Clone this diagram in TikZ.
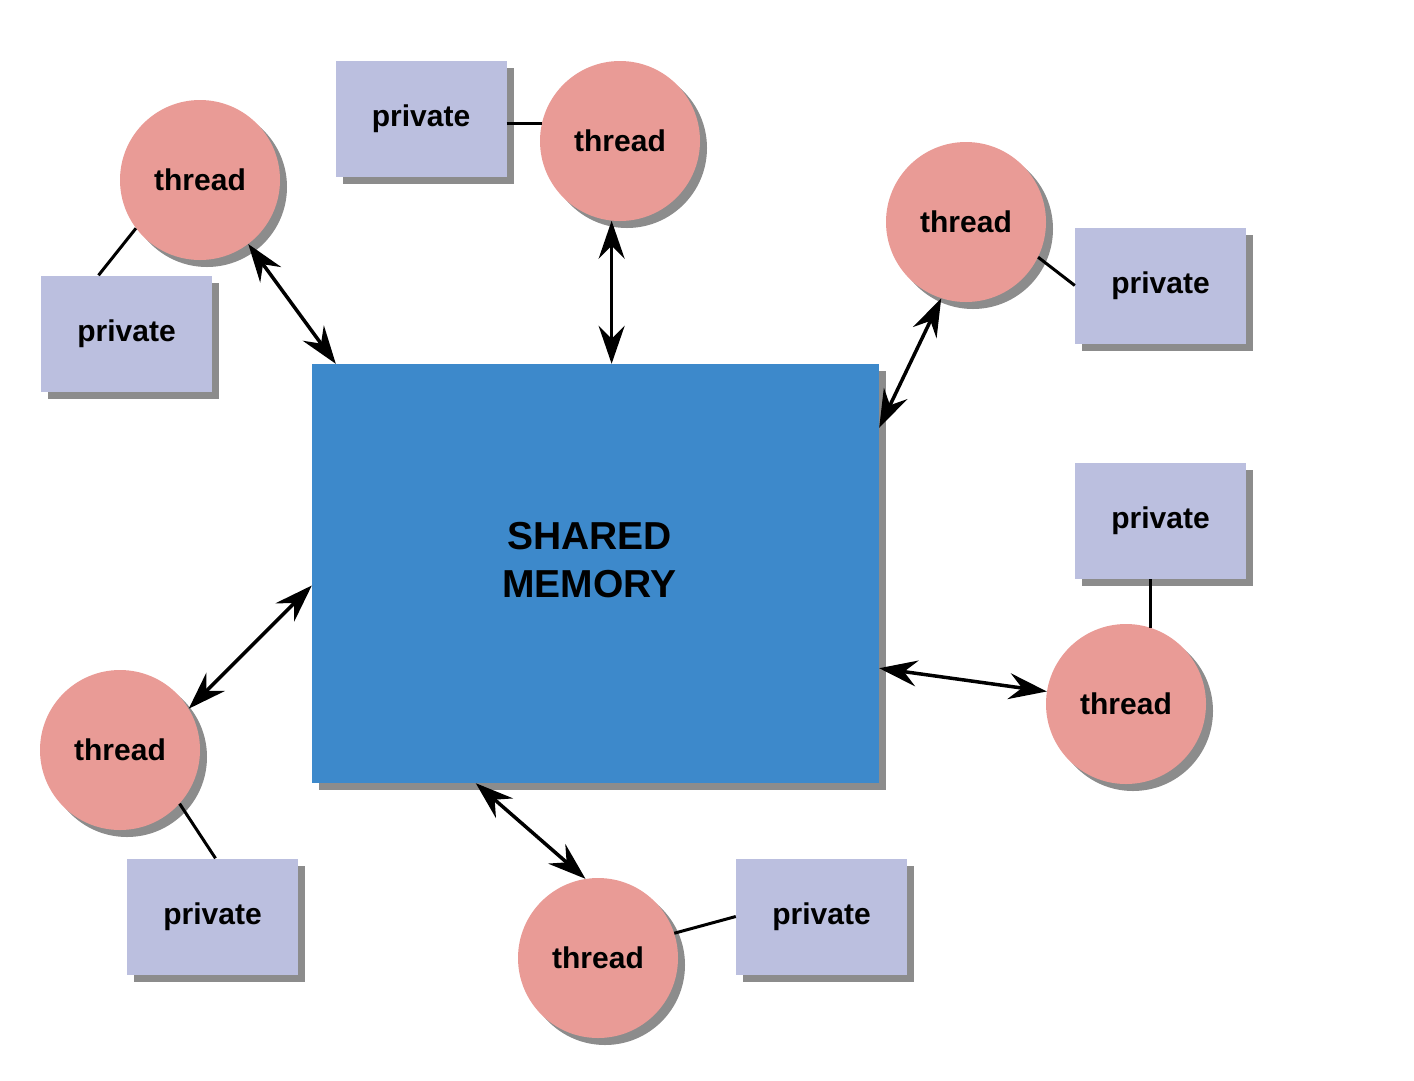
\documentclass[tikz,border=0pt]{standalone}
\usepackage{fontspec}
\setmainfont{Liberation Sans}
\usepackage{tikz}
\usetikzlibrary{arrows.meta,positioning,calc,shadows}
\definecolor{memblue}{RGB}{61,137,203}
\definecolor{threadpink}{RGB}{233,155,150}
\definecolor{privlav}{RGB}{187,191,223}

\begin{document}
\begin{tikzpicture}[
  x=1pt, y=-1pt,
  shade/.style={drop shadow={shadow xshift=7pt, shadow yshift=-7pt, opacity=0.45, fill=black}},
  membox/.style={fill=memblue, minimum width=567pt, minimum height=419pt, inner sep=0pt, shade},
  memtext/.style={align=center, font=\bfseries\fontsize{39}{48}\selectfont},
  threadnode/.style={circle, fill=threadpink, minimum size=160pt, inner sep=0pt, font=\bfseries\fontsize{30}{36}\selectfont, shade},
  privbox/.style={fill=privlav, minimum width=171pt, minimum height=116pt, inner sep=0pt, font=\bfseries\fontsize{30}{36}\selectfont, shade},
  arr/.style={{Stealth[length=38pt,width=26pt,inset=13pt]}-{Stealth[length=38pt,width=26pt,inset=13pt]}, line width=3.5pt},
  link/.style={line width=3pt}
]
\useasboundingbox (0,0) rectangle (1414,1080);

% Shared memory
\node[membox, label={[memtext, xshift=-6pt, yshift=13pt]center:{SHARED\\MEMORY}}] (mem) at (595.5,573.5) {};

% Threads
\node[threadnode] (t1) at (200,180) {thread};
\node[threadnode] (t2) at (620,141) {thread};
\node[threadnode] (t3) at (966,222) {thread};
\node[threadnode] (t4) at (1126,704) {thread};
\node[threadnode] (t5) at (598,958) {thread};
\node[threadnode] (t6) at (120,750) {thread};

% Private data
\node[privbox] (p1) at (126.5,333.5) {private};
\node[privbox] (p2) at (421,119) {private};
\node[privbox] (p3) at (1160.5,285.5) {private};
\node[privbox] (p4) at (1160.5,520.5) {private};
\node[privbox] (p5) at (821.5,916.5) {private};
\node[privbox] (p6) at (212.5,916.5) {private};

% Links thread -- private
\draw[link] (t1.217) -- ([xshift=-28pt]p1.north);
\draw[link] ([yshift=-4pt]p2.east) -- ([yshift=-4pt,xshift=2pt]p2.east -| t2.west);
\draw[link] (t3.-26) -- (p3.west);
\draw[link] (t4.72) -- (t4.72 |- p4.south);
\draw[link] (t5.18) -- (p5.west);
\draw[link] (t6.-42) -- ([xshift=3pt]p6.north);

% Arrows thread <-> memory
\draw[arr] (t1.-53) -- ([xshift=24pt]mem.north west);
\draw[arr] (t2.264) -- (t2.264 |- mem.north);
\draw[arr] (t3.252) -- ([yshift=-64pt]mem.north east);
\draw[arr] (t4.171) -- ([yshift=115pt]mem.south east);
\draw[arr] (t5.99) -- ([xshift=164pt]mem.south west);
\draw[arr] (t6.31) -- ([yshift=-12pt]mem.west);

\end{tikzpicture}
\end{document}
